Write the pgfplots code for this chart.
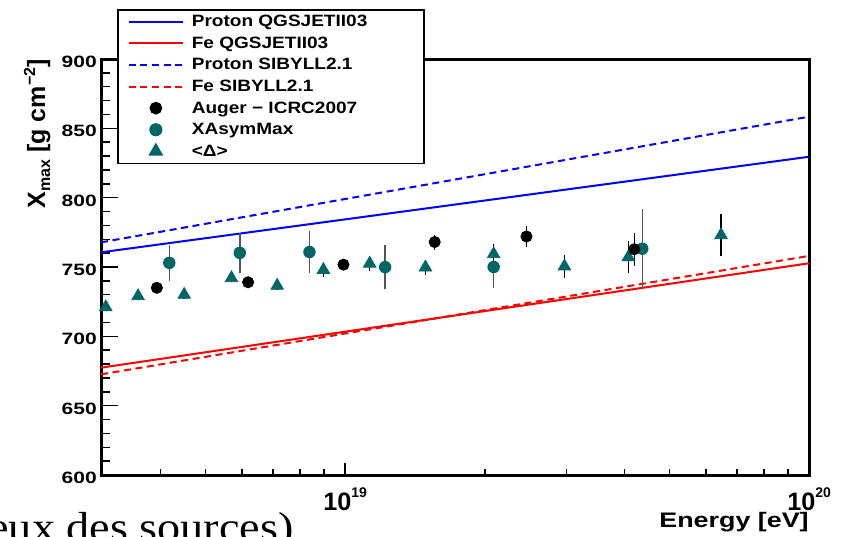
\documentclass[border=0pt]{standalone}
\usepackage{pgfplots}
\pgfplotsset{compat=1.18}
\usepackage{fontspec}
\setmainfont{Liberation Sans}
\newfontfamily\hvw{Liberation Sans}[FakeStretch=1.28]
\newfontfamily\hvl{Liberation Sans}[FakeStretch=1.16]
\newfontfamily\tms{Liberation Serif}[FakeStretch=1.1]
\definecolor{tealc}{RGB}{0,102,102}
\definecolor{errgray}{RGB}{85,85,85}
\newcommand{\sups}[1]{\raisebox{6.5bp}{\fontsize{7bp}{8bp}\selectfont #1}}
\pgfplotsset{
  lineleg/.style={legend image code/.code={\draw[##1] (0bp,0bp) -- (27bp,0bp);}},
  markleg/.style={legend image code/.code={\path[draw=none] (0bp,0bp) -- (27bp,0bp); \draw[##1] plot coordinates {(13.5bp,0bp)};}},
}
\pgfplotstableread{
x y e
3.93e18 735 2
6.18e18 739 2
9.92e18 751.7 2
1.56e19 768 5.4
2.46e19 772 7.5
4.2e19 762.8 11.8
}\augertab
\pgfplotstableread{
x y e
4.18e18 753 13
5.93e18 760.2 14.5
8.38e18 760.8 15
1.22e19 749.9 15.7
2.09e19 750 15
4.37e19 763.2 28.3
}\xasymtab
\pgfplotstableread{
x y e
3.05e18 721 3
3.58e18 729 3
4.5e18 730 3
5.69e18 742 3
7.14e18 736.5 3
8.98e18 747.9 5.1
1.13e19 752.5 5.5
1.49e19 749.7 5.3
2.09e19 759.3 7.2
2.97e19 750.5 8.5
4.08e19 757.2 11.5
6.46e19 773 15
}\deltatab
\begin{document}
\begin{tikzpicture}
\useasboundingbox (0bp,0bp) rectangle (424.5bp,268.5bp);
\node[anchor=base west, inner sep=0pt, font=\tms\fontsize{21bp}{24bp}\selectfont] at (-6bp,-2bp) {eux des sources)};
\begin{axis}[
  at={(50.5bp,31bp)}, anchor=south west,
  scale only axis, width=354bp, height=208bp,
  xmode=log, xmin=2.98e18, xmax=1e20, ymin=600, ymax=900,
  clip=false,
  axis line style={line width=1.5bp},
  tick style={line width=0.75bp, black},
  tick align=inside,
  xtick pos=bottom, ytick pos=left,
  major tick length=8.5bp, minor tick length=4.5bp,
  xtick style={/pgfplots/major tick length=6bp, /pgfplots/minor tick length=3bp},
  ytick={600,650,...,900},
  minor y tick num=4,
  xtick={1e19,1e20},
  xticklabels={10\sups{19},10\sups{20}},
  minor xtick={4e18,5e18,6e18,7e18,8e18,9e18,2e19,3e19,4e19,5e19,6e19,7e19,8e19,9e19},
  /pgf/number format/assume math mode=true,
  yticklabel style={font=\hvw\bfseries\fontsize{8.2bp}{9bp}\selectfont, inner xsep=2bp, yshift=-1.5bp},
  xticklabel style={font=\bfseries\fontsize{12.6bp}{14bp}\selectfont, inner sep=0pt, anchor=north, yshift=-6bp},
  xlabel={Energy [eV]},
  xlabel style={at={(rel axis cs:1,0)}, anchor=north east, inner sep=0pt, yshift=-18.5bp, font=\hvw\bfseries\fontsize{10.5bp}{12bp}\selectfont},
  ylabel={X\raisebox{-2.5bp}{\fontsize{8bp}{9bp}\selectfont max} [g cm\raisebox{5bp}{\fontsize{8bp}{9bp}\selectfont −2}]},
  ylabel style={at={(axis description cs:-0.0791,1)}, anchor=base east, inner sep=0pt, font=\bfseries\fontsize{12.5bp}{14bp}\selectfont},
  legend style={at={(axis description cs:0.0226,1.1202)}, anchor=north west,
    draw=black, line width=0.75bp, fill=white, inner xsep=5bp, inner ysep=2bp,
    row sep=2.8bp, column sep=4bp,
    font=\hvl\bfseries\fontsize{8.2bp}{9bp}\selectfont,
    nodes={inner sep=0pt, text height=6.5bp, text depth=1.5bp}},
  legend cell align=left,
]
\addplot[blue, line width=1bp, lineleg] coordinates {(2.98e18,760.6) (1e20,829.5)};
\addlegendentry{\makebox[111bp][l]{Proton QGSJETII03}}
\addplot[red, line width=1bp, lineleg] coordinates {(2.98e18,677.4) (1e20,752.7)};
\addlegendentry{Fe QGSJETII03}
\addplot[blue, line width=1bp, dash pattern=on 3.5bp off 2.3bp, lineleg] coordinates {(2.98e18,767.8) (1e20,858.4)};
\addlegendentry{Proton SIBYLL2.1}
\addplot[red, line width=1bp, dash pattern=on 3.5bp off 2.3bp, lineleg] coordinates {(2.98e18,672.6) (1e20,758)};
\addlegendentry{Fe SIBYLL2.1}
\addlegendimage{only marks, mark=*, mark size=2.8bp, black, markleg}
\addlegendentry{Auger − ICRC2007}
\addlegendimage{only marks, mark=*, mark size=2.9bp, tealc, markleg}
\addlegendentry{XAsymMax}
\addlegendimage{only marks, mark=triangle*, mark size=3.6bp, tealc, markleg}
\addlegendentry{<Δ>}
\addplot[forget plot, only marks, mark=*, mark size=2.9bp, tealc,
  error bars/.cd, y dir=both, y explicit, error mark=none,
  error bar style={line width=0.75bp, errgray}]
  table[x=x, y=y, y error=e] {\xasymtab};
\addplot[forget plot, only marks, mark=triangle*, mark size=3.6bp, tealc,
  error bars/.cd, y dir=both, y explicit, error mark=none,
  error bar style={line width=0.75bp, black}]
  table[x=x, y=y, y error=e] {\deltatab};
\addplot[forget plot, only marks, mark=*, mark size=2.8bp, black,
  error bars/.cd, y dir=both, y explicit, error mark=none,
  error bar style={line width=0.75bp, black}]
  table[x=x, y=y, y error=e] {\augertab};
\end{axis}
\end{tikzpicture}
\end{document}
